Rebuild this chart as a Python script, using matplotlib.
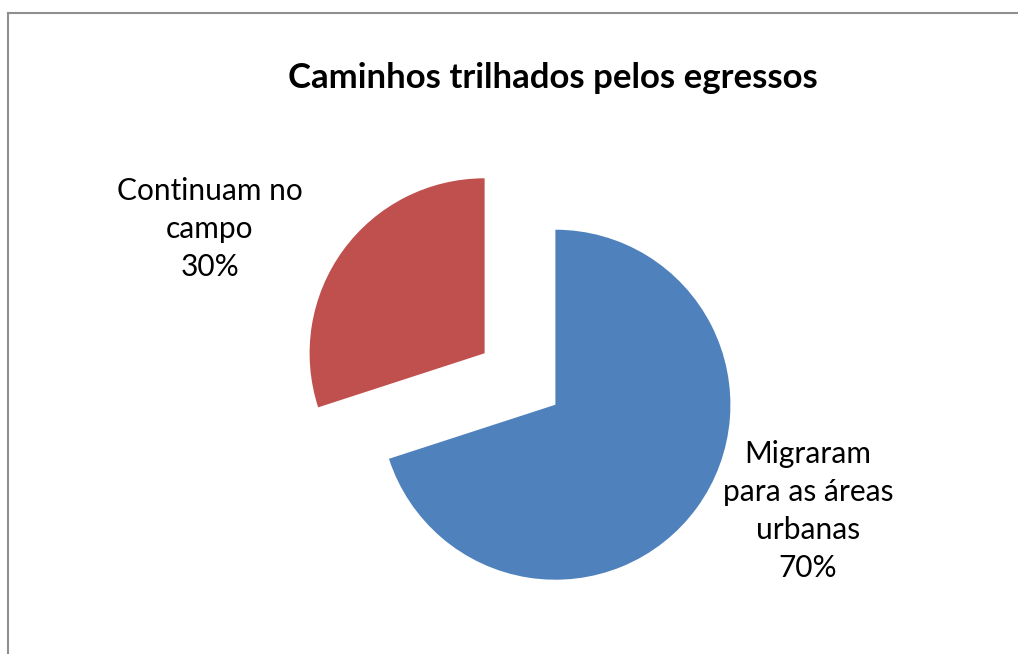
import matplotlib
matplotlib.use("Agg")
import matplotlib.pyplot as plt
from matplotlib.lines import Line2D

title = "Caminhos trilhados pelos egressos"
categories = ["Migraram\npara as áreas\nurbanas", "Continuam no\ncampo"]
values = [70, 30]
colors = ["#4F81BD", "#C0504D"]

W, H = 1018, 654
fig = plt.figure(figsize=(W / 100, H / 100), dpi=100)
ax = fig.add_axes([0, 0, 1, 1])
ax.set_xlim(0, W)
ax.set_ylim(0, H)
ax.set_aspect("equal")
ax.axis("off")

R = 175
cx, cy = 520, H - 379
ax.pie(values, colors=colors, startangle=90, counterclock=False,
       radius=R, center=(cx, cy), explode=[0.25 * R] * len(values),
       wedgeprops=dict(linewidth=0), frame=False)
ax.set_xlim(0, W)
ax.set_ylim(0, H)
ax.axis("off")

fam = ["Lato", "DejaVu Sans"]
ax.text(553, H - 78, title, ha="center", va="center", fontsize=25,
        fontweight="bold", family=fam)
pos = [(808, H - 511), (210, H - 229)]
for (tx, ty), cat, v in zip(pos, categories, values):
    ax.text(tx, ty, f"{cat}\n{v}%", ha="center", va="center", fontsize=21.5,
            family=fam, linespacing=1.43)

fig.add_artist(Line2D([7.5 / W, 1], [1 - 12.5 / H, 1 - 12.5 / H], color="#8f8f8f", lw=1.5))
fig.add_artist(Line2D([7.5 / W, 7.5 / W], [0, 1 - 12.5 / H], color="#8f8f8f", lw=1.5))

fig.savefig("out.png", dpi=100)
